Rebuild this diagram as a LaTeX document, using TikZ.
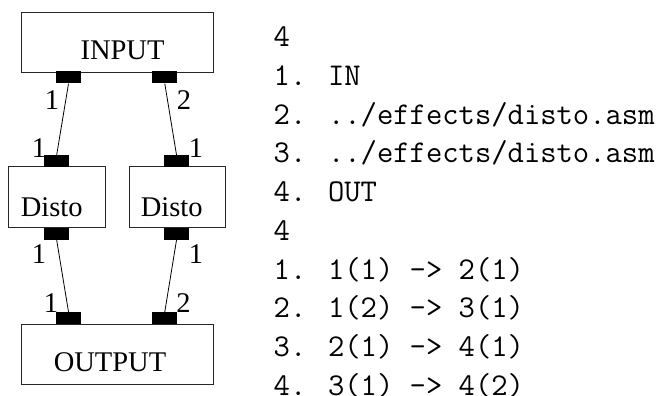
\documentclass[tikz,border=0pt]{standalone}
\usepackage{fontspec}
\setmainfont{Liberation Serif}
\begin{document}
\begin{tikzpicture}[x=1pt,y=-1pt,
  blk/.style={draw=black!85,line width=0.9pt,inner sep=0pt,fill=white},
  port/.style={fill=black,draw=none,minimum width=25pt,minimum height=12pt,inner sep=0pt},
  wire/.style={draw=black,line width=0.8pt},
  boxtxt/.style={anchor=base,inner sep=0pt,font=\fontsize{28.5}{30}\selectfont},
  plab/.style={inner sep=0pt,font=\fontsize{28.5}{30}\selectfont},
  ttl/.style={anchor=base west,inner sep=0pt,font=\ttfamily\fontsize{31.7}{38}\selectfont}]
\useasboundingbox (0,0) rectangle (657,396);
% boxes
\node[blk,minimum width=192pt,minimum height=60pt] (in) at (117,42) {};
\node[blk,minimum width=96.7pt,minimum height=60.6pt] (d1) at (56.7,197) {};
\node[blk,minimum width=96.7pt,minimum height=60.6pt] (d2) at (177.3,197) {};
\node[blk,minimum width=192pt,minimum height=60pt] (out) at (117,354) {};
% box texts
\node[boxtxt] (tin) at (122.5,60) {INPUT};
\node[boxtxt] (td1) at (51.7,216) {Disto};
\node[boxtxt] (td2) at (171.7,216) {Disto};
\node[boxtxt] (tout) at (110,371.7) {OUTPUT};
% ports
\node[port] (pi1) at (68.5,77.5) {};
\node[port] (pi2) at (164.8,77.5) {};
\node[port] (pd1t) at (56.7,161) {};
\node[port] (pd2t) at (176.5,161) {};
\node[port] (pd1b) at (56.7,234) {};
\node[port] (pd2b) at (176.5,234) {};
\node[port] (po1) at (68.5,318) {};
\node[port] (po2) at (164.8,318) {};
% wires
\draw[wire] (pi1.south) -- (pd1t.north);
\draw[wire] (pi2.south) -- (pd2t.north);
\draw[wire] (pd1b.south) -- (po1.north);
\draw[wire] (pd2b.south) -- (po2.north);
% port labels
\node[plab] (l1) at (52,100) {1};
\node[plab] (l2) at (184,100) {2};
\node[plab] (l3) at (39,148) {1};
\node[plab] (l4) at (196,148) {1};
\node[plab] (l5) at (39,254) {1};
\node[plab] (l6) at (196,254) {1};
\node[plab] (l7) at (51,303.5) {1};
\node[plab] (l8) at (183.5,303) {2};
% listing
\node[ttl] (t0) at (273.5,47) {4};
\node[ttl] (t1) at (273.5,85.7) {1. IN};
\node[ttl] (t2) at (273.5,124.3) {2. ../effects/disto.asm};
\node[ttl] (t3) at (273.5,163) {3. ../effects/disto.asm};
\node[ttl] (t4) at (273.5,201.7) {4. OUT};
\node[ttl] (t5) at (273.5,240.3) {4};
\node[ttl] (t6) at (273.5,279) {1. 1(1) -> 2(1)};
\node[ttl] (t7) at (273.5,317.7) {2. 1(2) -> 3(1)};
\node[ttl] (t8) at (273.5,356.3) {3. 2(1) -> 4(1)};
\node[ttl] (t9) at (273.5,395) {4. 3(1) -> 4(2)};
\end{tikzpicture}
\end{document}
